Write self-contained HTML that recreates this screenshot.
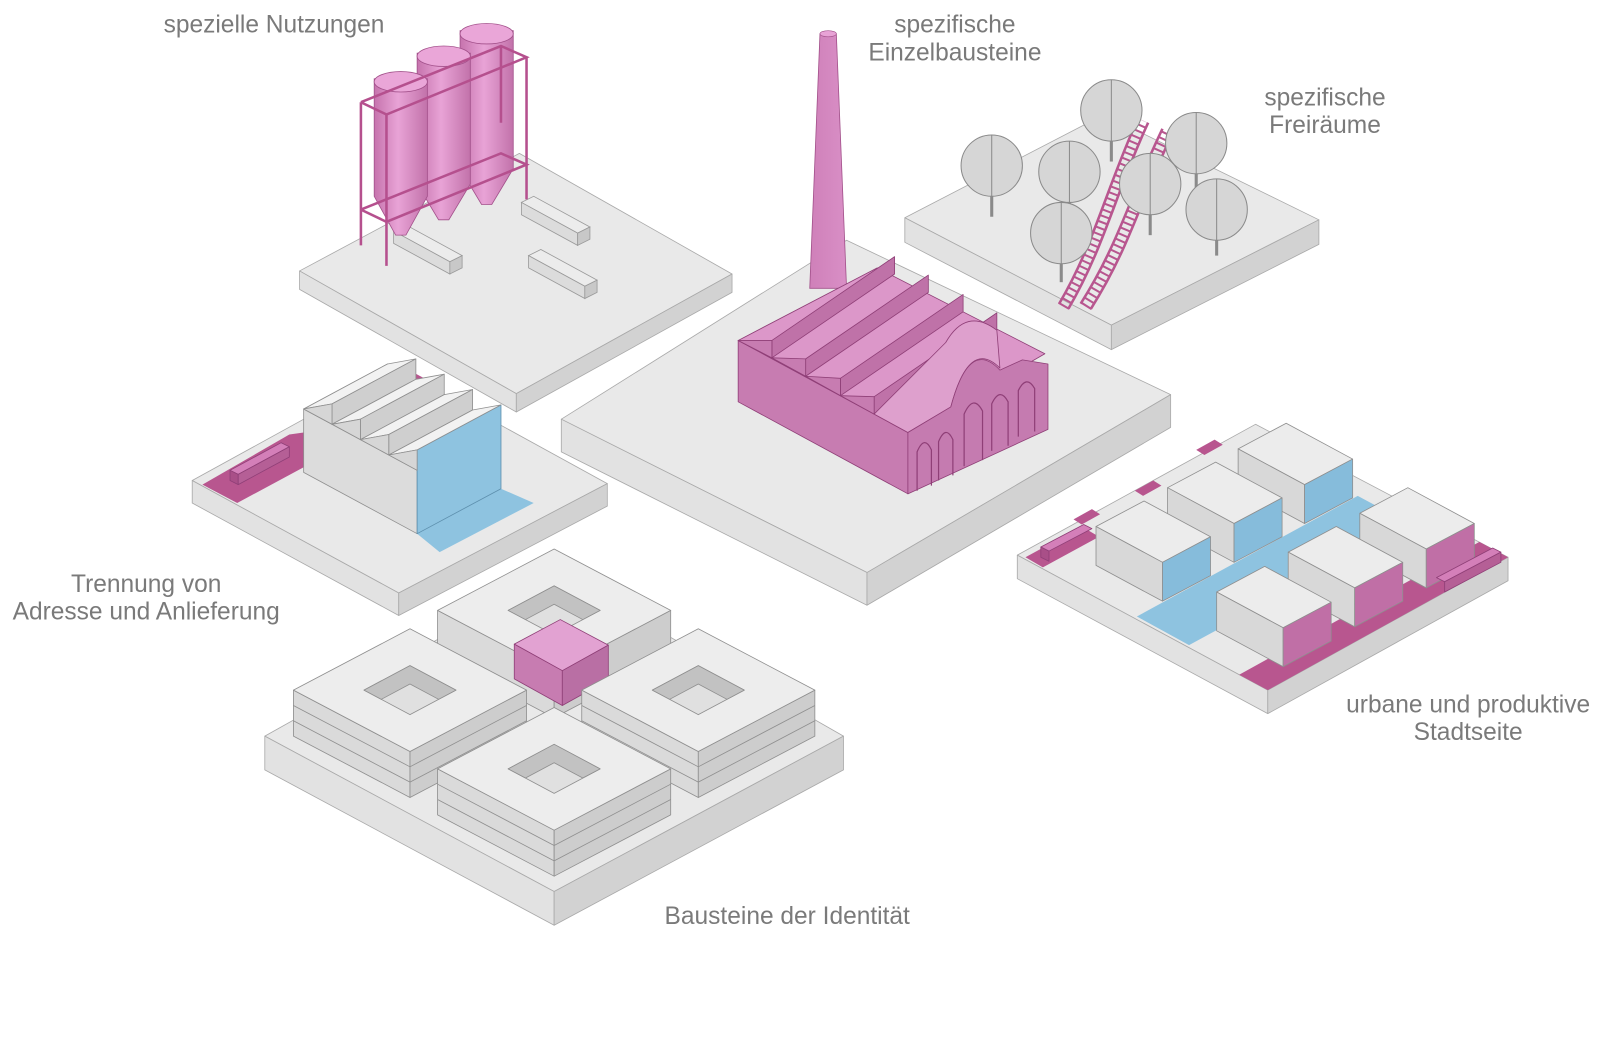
<!DOCTYPE html>
<html><head><meta charset="utf-8"><style>
html,body{margin:0;padding:0;background:#fff;}
svg{display:block}
text{font-family:"Liberation Sans",sans-serif;font-size:24px;fill:#7a7a7a;}
</style></head><body>
<svg width="1600" height="1040" viewBox="0 0 1600 1040" xmlns="http://www.w3.org/2000/svg">
<defs>
<linearGradient id="silo" x1="0" x2="1" y1="0" y2="0">
<stop offset="0" stop-color="#c673ad"/><stop offset="0.45" stop-color="#e8a3d6"/><stop offset="1" stop-color="#c272aa"/>
</linearGradient>
<linearGradient id="chim" x1="0" x2="1"><stop offset="0" stop-color="#cf80b9"/><stop offset="1" stop-color="#d98fc6"/></linearGradient>
</defs>
<g transform="scale(1.0224)">
<g stroke="#a9a9a9" stroke-width="0.8" stroke-linejoin="round">
<polygon points="885,213 1080,112 1290,215 1087,318" fill="#e9e9e9"/>
<polygon points="885,213 1087,318 1087,342 885,237" fill="#e2e2e2"/>
<polygon points="1087,318 1290,215 1290,239 1087,342" fill="#d2d2d2"/>
<polygon points="293,265 508,150 716,268 505,385" fill="#e9e9e9"/>
<polygon points="293,265 505,385 505,403 293,283" fill="#e2e2e2"/>
<polygon points="505,385 716,268 716,286 505,403" fill="#d2d2d2"/>
<polygon points="549,410 828,235 1145,386 848,560" fill="#e9e9e9"/>
<polygon points="549,410 848,560 848,592 549,442" fill="#e2e2e2"/>
<polygon points="848,560 1145,386 1145,418 848,592" fill="#d2d2d2"/>
<polygon points="188,470 388,360 594,473 390,580" fill="#e9e9e9"/>
<polygon points="188,470 390,580 390,602 188,492" fill="#e2e2e2"/>
<polygon points="390,580 594,473 594,495 390,602" fill="#d2d2d2"/>
<polygon points="995,543 1228,415 1475,545 1240,675" fill="#e9e9e9"/>
<polygon points="995,543 1240,675 1240,698 995,566" fill="#e2e2e2"/>
<polygon points="1240,675 1475,545 1475,568 1240,698" fill="#d2d2d2"/>
<polygon points="259,720 545,560 825,720 542,872" fill="#e9e9e9"/>
<polygon points="259,720 542,872 542,905 259,753" fill="#e2e2e2"/>
<polygon points="542,872 825,720 825,753 542,905" fill="#d2d2d2"/>
</g>

<g fill="none" stroke="#b8568f">
<path d="M1040,300 C1075,240 1085,190 1118,118" stroke-width="12" stroke-dasharray="2 4"/>
<path d="M1036,297 C1071,237 1081,187 1113,116 M1045,302 C1080,242 1090,192 1123,120" stroke-width="2.5"/>
<path d="M1062,300 C1100,240 1110,195 1142,128" stroke-width="12" stroke-dasharray="2 4"/>
<path d="M1057,297 C1095,237 1105,192 1137,126 M1067,302 C1105,242 1115,197 1147,130" stroke-width="2.5"/>
</g>
<g stroke="#8a8a8a" stroke-width="1">
<line x1="970" y1="162" x2="970" y2="212" stroke-width="3"/>
<ellipse cx="970" cy="162" rx="30" ry="30" fill="#d6d6d6"/><line x1="970" y1="132" x2="970" y2="192"/>
<line x1="1087" y1="108" x2="1087" y2="158" stroke-width="3"/>
<ellipse cx="1087" cy="108" rx="30" ry="30" fill="#d6d6d6"/><line x1="1087" y1="78" x2="1087" y2="138"/>
<line x1="1170" y1="140" x2="1170" y2="185" stroke-width="3"/>
<ellipse cx="1170" cy="140" rx="30" ry="30" fill="#d6d6d6"/><line x1="1170" y1="110" x2="1170" y2="170"/>
<line x1="1046" y1="168" x2="1046" y2="222" stroke-width="3"/>
<ellipse cx="1046" cy="168" rx="30" ry="30" fill="#d6d6d6"/><line x1="1046" y1="138" x2="1046" y2="198"/>
<line x1="1125" y1="180" x2="1125" y2="230" stroke-width="3"/>
<ellipse cx="1125" cy="180" rx="30" ry="30" fill="#d6d6d6"/><line x1="1125" y1="150" x2="1125" y2="210"/>
<line x1="1190" y1="205" x2="1190" y2="250" stroke-width="3"/>
<ellipse cx="1190" cy="205" rx="30" ry="30" fill="#d6d6d6"/><line x1="1190" y1="175" x2="1190" y2="235"/>
<line x1="1038" y1="228" x2="1038" y2="276" stroke-width="3"/>
<ellipse cx="1038" cy="228" rx="30" ry="30" fill="#d6d6d6"/><line x1="1038" y1="198" x2="1038" y2="258"/>
</g>

<g stroke="#9a9a9a" stroke-width="0.8">
<polygon points="385,226 440,256 452,250 397,220" fill="#ececec"/><polygon points="385,226 440,256 440,268 385,238" fill="#dcdcdc"/><polygon points="440,256 452,250 452,262 440,268" fill="#c8c8c8"/>
<polygon points="510,198 565,228 577,222 522,192" fill="#ececec"/><polygon points="510,198 565,228 565,240 510,210" fill="#dcdcdc"/><polygon points="565,228 577,222 577,234 565,240" fill="#c8c8c8"/>
<polygon points="517,250 572,280 584,274 529,244" fill="#ececec"/><polygon points="517,250 572,280 572,292 517,262" fill="#dcdcdc"/><polygon points="572,280 584,274 584,286 572,292" fill="#c8c8c8"/>
</g>
<g stroke="#a2508a" stroke-width="0.8">
<polygon points="450,30 502,30 502,165 481,200 471,200 450,165" fill="url(#silo)"/>
<ellipse cx="476" cy="33" rx="26" ry="10" fill="#eaa6d8"/>
<polygon points="408,52 460,52 460,180 439,215 429,215 408,180" fill="url(#silo)"/>
<ellipse cx="434" cy="55" rx="26" ry="10" fill="#eaa6d8"/>
<polygon points="366,77 418,77 418,192 397,230 387,230 366,192" fill="url(#silo)"/>
<ellipse cx="392" cy="80" rx="26" ry="10" fill="#eaa6d8"/>
</g>
<g stroke="#b5508e" stroke-width="2.5" fill="none">
<polyline points="353,100 490,45 515,56 378,112 353,100"/>
<polyline points="353,205 490,150 515,161 378,217 353,205"/>
<line x1="353" y1="100" x2="353" y2="240"/><line x1="378" y1="112" x2="378" y2="260"/>
<line x1="515" y1="56" x2="515" y2="195"/><line x1="490" y1="45" x2="490" y2="120"/>
</g>

<polygon points="802,33 818,33 828,282 792,282" fill="url(#chim)" stroke="#a2508a" stroke-width="0.8"/>
<ellipse cx="810" cy="33" rx="8" ry="3" fill="#e8a3d6" stroke="#a2508a" stroke-width="0.6"/>

<g stroke="#8f3f77" stroke-width="0.8" stroke-linejoin="round">
<polygon points="722,333 858,262 1022,346 888,423" fill="#dc97c9"/>
<polygon points="722,333 888,423 888,483 722,393" fill="#c77cb1"/>
<polygon points="755,333 875,251 875,268 755,350" fill="#bf72a8"/>
<polygon points="788,351 908,269 908,286 788,368" fill="#bf72a8"/>
<polygon points="822,370 942,288 942,305 822,387" fill="#bf72a8"/>
<polygon points="855,388 975,306 975,323 855,405" fill="#bf72a8"/>
<polygon points="722,333 755,333 755,350" fill="#c77cb1"/>
<polygon points="755,350 788,351 788,368" fill="#c77cb1"/>
<polygon points="788,368 822,370 822,387" fill="#c77cb1"/>
<polygon points="822,387 855,388 855,405" fill="#c77cb1"/>
<path d="M855,405 L888,423 L930,398 Q948,330 978,360 L975,323 Q945,300 925,335 Z" fill="#dea0cd"/>
<path d="M888,483 L888,423 L930,398 Q948,330 978,362 L1000,352 L1025,356 L1025,420 Z" fill="#c57bb0"/>
<g fill="none" stroke="#8f3f77" stroke-width="1.2">
<path d="M897,480 V442 Q904,425 911,440 V475"/>
<path d="M918,470 V432 Q925,415 932,430 V465"/>
<path d="M943,456 V405 Q952,385 961,402 V450"/>
<path d="M970,441 V395 Q978,378 986,393 V436"/>
<path d="M996,427 V382 Q1004,366 1012,380 V422"/>
</g>
</g>

<g stroke="#8f8f8f" stroke-width="0.8" stroke-linejoin="round">
<polygon points="198,474 232,492 297,457 297,423 283,425" fill="#b8568f" stroke="none"/>
<polygon points="385,370 400,362 430,378 412,388" fill="#b8568f" stroke="none"/>
<polygon points="408,522 430,540 522,492 490,478" fill="#8ec3e0" stroke="none"/>
<polygon points="225,460 275,433 283,437 233,464" fill="#d47fb9" stroke="#8f3f77"/>
<polygon points="225,460 233,464 233,474 225,470" fill="#a94f88" stroke="#8f3f77"/>
<polygon points="233,464 283,437 283,447 233,474" fill="#b55f96" stroke="#8f3f77"/>
<polygon points="297,400 408,460 408,522 297,462" fill="#dcdcdc"/>
<polygon points="408,440 490,396 490,478 408,522" fill="#8ec3e0" stroke="#5d8fad"/>
<polygon points="297,400 379,356 407,371 324.75,415" fill="#ececec"/>
<polygon points="297,400 379,356 406.75,351 324.75,395" fill="#f2f2f2"/>
<polygon points="324.75,415 406.75,371 406.75,351 324.75,395" fill="#cfcfcf"/>
<polygon points="324.75,415 406.75,371 434.5,366 352.5,410" fill="#f2f2f2"/>
<polygon points="352.5,430 434.5,386 434.5,366 352.5,410" fill="#cfcfcf"/>
<polygon points="352.5,430 434.5,386 462.25,381 380.25,425" fill="#f2f2f2"/>
<polygon points="380.25,445 462.25,401 462.25,381 380.25,425" fill="#cfcfcf"/>
<polygon points="380.25,445 462.25,401 490,396 408,440" fill="#f2f2f2"/>
<polygon points="297,400 324.75,415 324.75,395" fill="#d6d6d6"/>
<polygon points="324.75,415 352.5,430 352.5,410" fill="#d6d6d6"/>
<polygon points="352.5,430 380.25,445 380.25,425" fill="#d6d6d6"/>
<polygon points="380.25,445 408,460 408,440" fill="#d6d6d6"/>
</g>

<g stroke="#8f8f8f" stroke-width="0.8" stroke-linejoin="round">
<polygon points="1112,603 1163,631 1380,513 1328,485" fill="#8ec3e0" stroke="none"/>
<polygon points="1003,545 1020,555 1075,525 1058,515" fill="#b8568f" stroke="none"/>
<polygon points="1212,660 1240,675 1475,545 1447,530" fill="#b8568f" stroke="none"/>
<polygon points="1050,508 1068,498 1076,503 1058,513" fill="#b8568f" stroke="none"/>
<polygon points="1110,480 1128,470 1136,475 1118,485" fill="#b8568f" stroke="none"/>
<polygon points="1170,440 1188,430 1196,435 1178,445" fill="#b8568f" stroke="none"/>
<polygon points="1211,439 1258,414 1323,449 1276,474" fill="#ececec"/><polygon points="1211,439 1276,474 1276,512 1211,477" fill="#d8d8d8"/><polygon points="1276,474 1323,449 1323,487 1276,512" fill="#86bcdb"/>
<polygon points="1142,477 1189,452 1254,487 1207,512" fill="#ececec"/><polygon points="1142,477 1207,512 1207,550 1142,515" fill="#d8d8d8"/><polygon points="1207,512 1254,487 1254,525 1207,550" fill="#86bcdb"/>
<polygon points="1072,515 1119,490 1184,525 1137,550" fill="#ececec"/><polygon points="1072,515 1137,550 1137,588 1072,553" fill="#d8d8d8"/><polygon points="1137,550 1184,525 1184,563 1137,588" fill="#86bcdb"/>
<polygon points="1330,502 1377,477 1442,512 1395,537" fill="#ececec"/><polygon points="1330,502 1395,537 1395,575 1330,540" fill="#d8d8d8"/><polygon points="1395,537 1442,512 1442,550 1395,575" fill="#c06fa6"/>
<polygon points="1260,540 1307,515 1372,550 1325,575" fill="#ececec"/><polygon points="1260,540 1325,575 1325,613 1260,578" fill="#d8d8d8"/><polygon points="1325,575 1372,550 1372,588 1325,613" fill="#c06fa6"/>
<polygon points="1190,579 1237,554 1302,589 1255,614" fill="#ececec"/><polygon points="1190,579 1255,614 1255,652 1190,617" fill="#d8d8d8"/><polygon points="1255,614 1302,589 1302,627 1255,652" fill="#c06fa6"/>
<polygon points="1405,565 1460,536 1468,540 1413,569" fill="#d47fb9" stroke="#8f3f77"/><polygon points="1413,569 1468,540 1468,550 1413,579" fill="#b55f96" stroke="#8f3f77"/>
<polygon points="1018,535 1060,513 1068,517 1026,539" fill="#d47fb9" stroke="#8f3f77"/><polygon points="1018,535 1026,539 1026,549 1018,545" fill="#a94f88" stroke="#8f3f77"/>
</g>

<g stroke="#8f8f8f" stroke-width="0.8" stroke-linejoin="round">
<polygon points="428,597 542,657 542,702 428,642" fill="#dadada"/>
<polygon points="542,657 656,597 656,642 542,702" fill="#cdcdcd"/>
<polygon points="428,597 542,537 656,597 542,657" fill="#ededed"/>
<polygon points="497,597 542,573 587,597 542,621" fill="#e0e0e0"/>
<polygon points="497,597 542,573 587,597 570,606 542,591 514,606" fill="#c2c2c2"/>
<polygon points="503,630 548,606 595,631 550,656" fill="#e2a2d2" stroke="#8f3f77"/>
<polygon points="503,630 550,656 550,690 503,664" fill="#c77cb1" stroke="#8f3f77"/>
<polygon points="550,656 595,631 595,665 550,690" fill="#b96fa4" stroke="#8f3f77"/>
<polygon points="287,675 401,735 401,780 287,720" fill="#dadada"/>
<polygon points="401,735 515,675 515,720 401,780" fill="#cdcdcd"/>
<polygon points="287,675 401,615 515,675 401,735" fill="#ededed"/>
<polygon points="356,675 401,651 446,675 401,699" fill="#e0e0e0"/>
<polygon points="356,675 401,651 446,675 429,684 401,669 373,684" fill="#c2c2c2"/>
<polyline points="287,690 401,750 515,690" fill="none"/><polyline points="287,705 401,765 515,705" fill="none"/>
<polygon points="569,675 683,735 683,780 569,720" fill="#dadada"/>
<polygon points="683,735 797,675 797,720 683,780" fill="#cdcdcd"/>
<polygon points="569,675 683,615 797,675 683,735" fill="#ededed"/>
<polygon points="638,675 683,651 728,675 683,699" fill="#e0e0e0"/>
<polygon points="638,675 683,651 728,675 711,684 683,669 655,684" fill="#c2c2c2"/>
<polyline points="569,690 683,750 797,690" fill="none"/><polyline points="569,705 683,765 797,705" fill="none"/>
<polygon points="428,752 542,812 542,857 428,797" fill="#dadada"/>
<polygon points="542,812 656,752 656,797 542,857" fill="#cdcdcd"/>
<polygon points="428,752 542,692 656,752 542,812" fill="#ededed"/>
<polygon points="497,752 542,728 587,752 542,776" fill="#e0e0e0"/>
<polygon points="497,752 542,728 587,752 570,761 542,746 514,761" fill="#c2c2c2"/>
<polyline points="428,767 542,827 656,767" fill="none"/><polyline points="428,782 542,842 656,782" fill="none"/>
</g>

<text x="160" y="32">spezielle Nutzungen</text>
<text x="934" y="32" text-anchor="middle">spezifische</text>
<text x="934" y="59" text-anchor="middle">Einzelbausteine</text>
<text x="1296" y="103" text-anchor="middle">spezifische</text>
<text x="1296" y="130" text-anchor="middle">Freiräume</text>
<text x="143" y="579" text-anchor="middle">Trennung von</text>
<text x="143" y="606" text-anchor="middle">Adresse und Anlieferung</text>
<text x="1436" y="697" text-anchor="middle">urbane und produktive</text>
<text x="1436" y="724" text-anchor="middle">Stadtseite</text>
<text x="650" y="904">Bausteine der Identität</text>
</g>
</svg>
</body></html>
